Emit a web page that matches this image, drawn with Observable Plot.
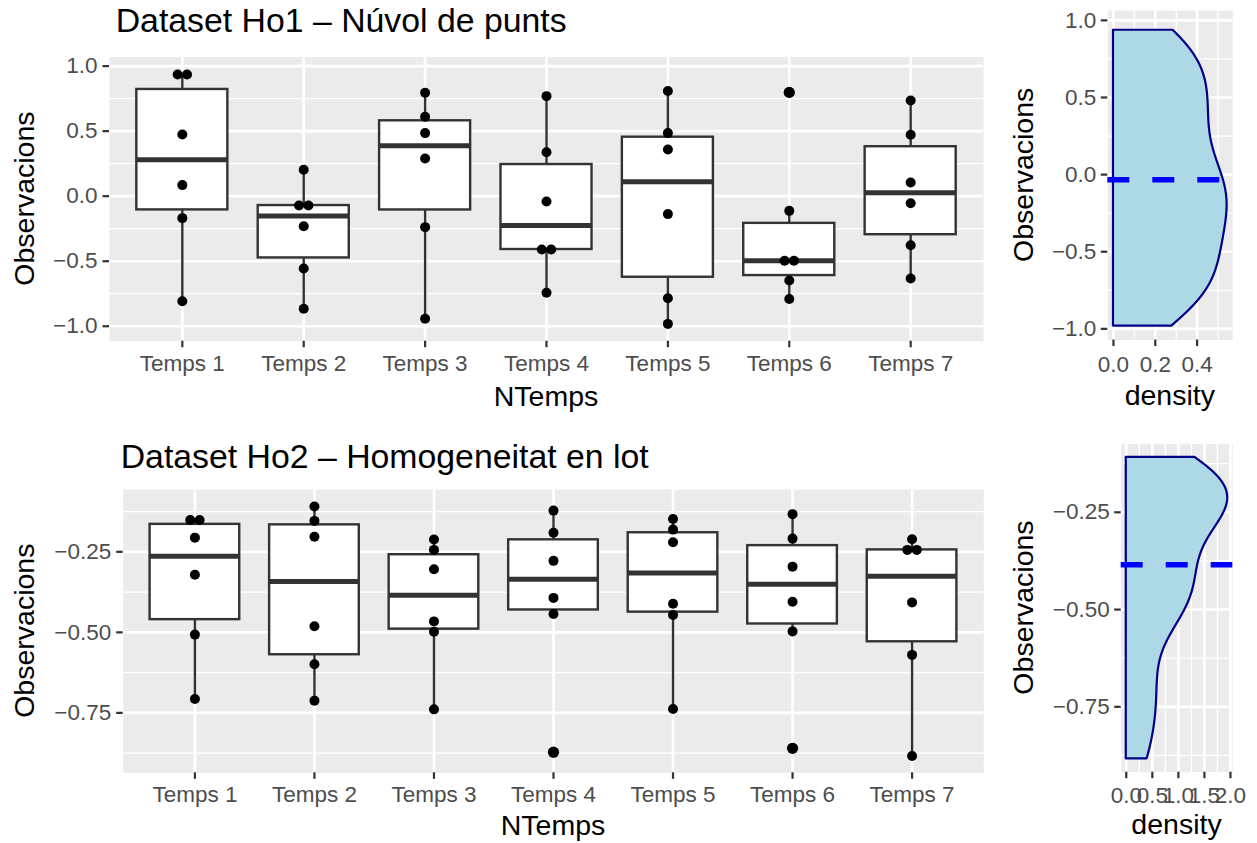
<!DOCTYPE html>
<html>
<head>
<meta charset="utf-8">
<script src="https://cdn.jsdelivr.net/npm/d3@7"></script>
<script src="https://cdn.jsdelivr.net/npm/@observablehq/plot@0.6"></script>
<style>
  body { margin: 0; background: #fff; }
  #fig { position: relative; width: 1257px; height: 843px; background: #fff; overflow: hidden; }
  .cell { position: absolute; }
  #labels { position: absolute; left: 0; top: 0; pointer-events: none; }
</style>
</head>
<body>
<div id="fig"></div>
<script>
// Categories along the x axis
const categories = ["Temps 1", "Temps 2", "Temps 3", "Temps 4", "Temps 5", "Temps 6", "Temps 7"];

// Dataset Ho1: six observations per time point
const ho1Obs = [
  [0.936, 0.936, 0.474, 0.085, -0.169, -0.808],
  [0.203, -0.072, -0.072, -0.231, -0.556, -0.866],
  [0.795, 0.611, 0.485, 0.290, -0.238, -0.943],
  [0.769, 0.338, -0.041, -0.410, -0.410, -0.743],
  [0.808, 0.485, 0.359, -0.138, -0.785, -0.982],
  [0.798, -0.113, -0.497, -0.497, -0.648, -0.790],
  [0.736, 0.472, 0.105, -0.054, -0.377, -0.633]
];

// Dataset Ho2: six observations per time point
const ho2Obs = [
  [-0.151, -0.151, -0.206, -0.321, -0.507, -0.707],
  [-0.109, -0.154, -0.203, -0.481, -0.599, -0.712],
  [-0.212, -0.244, -0.304, -0.466, -0.498, -0.739],
  [-0.122, -0.191, -0.278, -0.393, -0.443, -0.872],
  [-0.148, -0.181, -0.220, -0.411, -0.446, -0.738],
  [-0.133, -0.209, -0.296, -0.405, -0.497, -0.860],
  [-0.211, -0.244, -0.244, -0.407, -0.570, -0.884]
];

// Axis ticks (major / minor grid)
const ho1YTicks = [-1, -0.5, 0, 0.5, 1];
const ho1YMinor = [-0.75, -0.25, 0.25, 0.75];
const ho2YTicks = [-0.75, -0.5, -0.25];
const ho2YMinor = [-0.875, -0.625, -0.375, -0.125];
const dens1XTicks = [0, 0.2, 0.4];
const dens1XMinor = [0.1, 0.3, 0.5];
const dens2XTicks = [0, 0.5, 1, 1.5, 2];
const dens2XMinor = [0.25, 0.75, 1.25, 1.75];

// Vertical extents of the panels
const ho1YDomain = [-1.115, 1.07];
const ho2YDomain = [-0.936, -0.0565];
const dens1YDomain = [-1.073, 1.064];
const dens2YDomain = [-0.918, -0.074];

const FONT = "'Liberation Sans', Arial, Helvetica, sans-serif";
const PANEL_BG = "#EBEBEB";
const TICK_TEXT = "#4D4D4D";
const TICK_LINE = "#333333";
const MAJOR_W = 2.6, MINOR_W = 1.3;
const AXIS_FS = 22.5;

// Tukey box statistics (R type-7 quantiles)
function boxStats(groups) {
  return groups.map((vals, i) => {
    const s = d3.sort(vals);
    const q1 = d3.quantileSorted(s, 0.25);
    const med = d3.quantileSorted(s, 0.5);
    const q3 = d3.quantileSorted(s, 0.75);
    const iqr = q3 - q1;
    const lo = q1 - 1.5 * iqr, hi = q3 + 1.5 * iqr;
    const inside = s.filter(v => v >= lo && v <= hi);
    return {
      pos: i + 1, q1, med, q3,
      wlo: d3.min(inside), whi: d3.max(inside),
      out: s.filter(v => v < lo || v > hi)
    };
  });
}

// Points at the category centre; identical values are set side by side
function swarmPoints(groups, pxPerUnit, gapPx) {
  const pts = [];
  groups.forEach((vals, i) => {
    const byVal = d3.group(vals, v => v);
    for (const [v, arr] of byVal) {
      arr.forEach((_, j) => {
        const off = (j - (arr.length - 1) / 2) * gapPx / pxPerUnit;
        pts.push({x: i + 1 + off, y: v});
      });
    }
  });
  return pts;
}

// Gaussian kernel density over the data range, Silverman's bandwidth (bw.nrd0)
function kde(values, n = 512) {
  const s = d3.sort(values), N = s.length;
  const sd = d3.deviation(s);
  const iqr = d3.quantileSorted(s, 0.75) - d3.quantileSorted(s, 0.25);
  const bw = 0.9 * Math.min(sd, iqr / 1.34) * Math.pow(N, -0.2);
  const lo = s[0], hi = s[N - 1];
  const k = 1 / (N * bw * Math.sqrt(2 * Math.PI));
  return d3.range(n).map(i => {
    const y = lo + (hi - lo) * i / (n - 1);
    return {y, d: k * d3.sum(s, v => Math.exp(-0.5 * ((y - v) / bw) ** 2))};
  });
}

function boxChart({groups, yDomain, yTicks, yMinor, yFormat, width, height, mL, mR, mT, mB, xPad}) {
  const stats = boxStats(groups);
  const pxPerUnit = (width - mL - mR) / 7.2;
  const pts = swarmPoints(groups, pxPerUnit, 9.4);
  const outs = stats.flatMap(s => s.out.map(v => ({x: s.pos, y: v})));
  const pos = d3.range(1, categories.length + 1);
  const half = 0.375;
  return Plot.plot({
    width, height,
    marginLeft: mL, marginRight: mR, marginTop: mT, marginBottom: mB,
    style: {fontFamily: FONT, background: "transparent", overflow: "visible"},
    x: {type: "linear", domain: [0.4, categories.length + 0.6]},
    y: {domain: yDomain},
    marks: [
      Plot.frame({fill: PANEL_BG, stroke: "none"}),
      Plot.gridY(yMinor, {stroke: "white", strokeOpacity: 1, strokeWidth: MINOR_W}),
      Plot.gridY(yTicks, {stroke: "white", strokeOpacity: 1, strokeWidth: MAJOR_W}),
      Plot.gridX(pos, {stroke: "white", strokeOpacity: 1, strokeWidth: MAJOR_W}),
      Plot.ruleX(stats, {x: "pos", y1: "wlo", y2: "q1", stroke: TICK_LINE, strokeWidth: 2.4}),
      Plot.ruleX(stats, {x: "pos", y1: "q3", y2: "whi", stroke: TICK_LINE, strokeWidth: 2.4}),
      Plot.rect(stats, {x1: d => d.pos - half, x2: d => d.pos + half, y1: "q1", y2: "q3",
        fill: "white", stroke: TICK_LINE, strokeWidth: 2.4}),
      Plot.ruleY(stats, {y: "med", x1: d => d.pos - half, x2: d => d.pos + half,
        stroke: TICK_LINE, strokeWidth: 5}),
      Plot.dot(outs, {x: "x", y: "y", r: 5.6, fill: "black", stroke: "none"}),
      Plot.dot(pts, {x: "x", y: "y", r: 5, fill: "black", stroke: "none"}),
      Plot.axisY(yTicks, {tickFormat: yFormat, tickSize: 6.5, tickPadding: 5.5, fontSize: AXIS_FS,
        color: TICK_TEXT, stroke: TICK_LINE, strokeWidth: 2.2, label: null}),
      Plot.axisX(pos, {tickFormat: d => categories[d - 1], tickSize: 6.5, tickPadding: xPad, fontSize: AXIS_FS,
        color: TICK_TEXT, stroke: TICK_LINE, strokeWidth: 2.2, label: null})
    ]
  });
}

function densityChart({values, yDomain, yTicks, yMinor, yFormat, xTicks, xMinor, xFormat, width, height, mL, mR, mT, mB, xPad}) {
  const dens = kde(values);
  const m = d3.max(dens, d => d.d);
  const mean = d3.mean(values);
  return Plot.plot({
    width, height,
    marginLeft: mL, marginRight: mR, marginTop: mT, marginBottom: mB,
    style: {fontFamily: FONT, background: "transparent", overflow: "visible"},
    x: {domain: [-0.05 * m, 1.05 * m]},
    y: {domain: yDomain},
    marks: [
      Plot.frame({fill: PANEL_BG, stroke: "none"}),
      Plot.gridY(yMinor, {stroke: "white", strokeOpacity: 1, strokeWidth: MINOR_W}),
      Plot.gridX(xMinor, {stroke: "white", strokeOpacity: 1, strokeWidth: MINOR_W}),
      Plot.gridY(yTicks, {stroke: "white", strokeOpacity: 1, strokeWidth: MAJOR_W}),
      Plot.gridX(xTicks, {stroke: "white", strokeOpacity: 1, strokeWidth: MAJOR_W}),
      Plot.areaX(dens, {y: "y", x1: 0, x2: "d", fill: "#ADD8E6", stroke: "#00008B", strokeWidth: 2.2}),
      Plot.ruleY([mean], {stroke: "#0000FF", strokeWidth: 5.5, strokeDasharray: "22,23"}),
      Plot.axisY(yTicks, {tickFormat: yFormat, tickSize: 6.5, tickPadding: 5, fontSize: AXIS_FS,
        color: TICK_TEXT, stroke: TICK_LINE, strokeWidth: 2.2, label: null}),
      Plot.axisX(xTicks, {tickFormat: xFormat, tickSize: 6.5, tickPadding: xPad, fontSize: AXIS_FS,
        color: TICK_TEXT, stroke: TICK_LINE, strokeWidth: 2.2, label: null})
    ]
  });
}

const fig = document.getElementById("fig");
function place(node, left, top) {
  const div = document.createElement("div");
  div.className = "cell";
  div.style.left = left + "px";
  div.style.top = top + "px";
  div.appendChild(node);
  fig.appendChild(div);
}

const f1 = d3.format(".1f"), f2 = d3.format(".2f");

place(boxChart({groups: ho1Obs, yDomain: ho1YDomain, yTicks: ho1YTicks, yMinor: ho1YMinor, yFormat: f1,
  width: 1000, height: 420, mL: 109, mR: 17, mT: 56.5, mB: 79.3, xPad: 7}), 0, 0);

place(densityChart({values: ho1Obs.flat(), yDomain: dens1YDomain, yTicks: ho1YTicks, yMinor: ho1YMinor, yFormat: f1,
  xTicks: dens1XTicks, xMinor: dens1XMinor, xFormat: f1,
  width: 257, height: 420, mL: 107.3, mR: 24.7, mT: 10, mB: 80.4, xPad: 9}), 1000, 0);

place(boxChart({groups: ho2Obs, yDomain: ho2YDomain, yTicks: ho2YTicks, yMinor: ho2YMinor, yFormat: f2,
  width: 1000, height: 423, mL: 122.7, mR: 16.7, mT: 69, mB: 70.7, xPad: 7}), 0, 420);

place(densityChart({values: ho2Obs.flat(), yDomain: dens2YDomain, yTicks: ho2YTicks, yMinor: ho2YMinor, yFormat: f2,
  xTicks: dens2XTicks, xMinor: dens2XMinor, xFormat: f1,
  width: 257, height: 423, mL: 120.7, mR: 24.7, mT: 23.3, mB: 71.3, xPad: 8}), 1000, 420);

// Titles and axis titles
const labels = [
  {text: "Dataset Ho1 – Núvol de punts", x: 115.7, y: 32, size: 33.8, anchor: "start"},
  {text: "Dataset Ho2 – Homogeneitat en lot", x: 120.7, y: 467.5, size: 33.8, anchor: "start"},
  {text: "NTemps", x: 546, y: 405.5, size: 28.5, anchor: "middle"},
  {text: "NTemps", x: 553, y: 835, size: 28.5, anchor: "middle"},
  {text: "density", x: 1169.8, y: 405, size: 28.5, anchor: "middle"},
  {text: "density", x: 1176.5, y: 834, size: 28.5, anchor: "middle"},
  {text: "Observacions", x: 34, y: 198.6, size: 28.5, anchor: "middle", rotate: true},
  {text: "Observacions", x: 34, y: 630.7, size: 28.5, anchor: "middle", rotate: true},
  {text: "Observacions", x: 1033, y: 174.8, size: 28.5, anchor: "middle", rotate: true},
  {text: "Observacions", x: 1033, y: 607.5, size: 28.5, anchor: "middle", rotate: true}
];
const svg = d3.select(fig).append("svg")
  .attr("id", "labels").attr("width", 1257).attr("height", 843)
  .style("font-family", FONT);
svg.selectAll("text").data(labels).join("text")
  .attr("transform", d => `translate(${d.x},${d.y})` + (d.rotate ? " rotate(-90)" : ""))
  .attr("text-anchor", d => d.anchor)
  .attr("font-size", d => d.size)
  .attr("fill", "black")
  .text(d => d.text);
</script>
</body>
</html>
